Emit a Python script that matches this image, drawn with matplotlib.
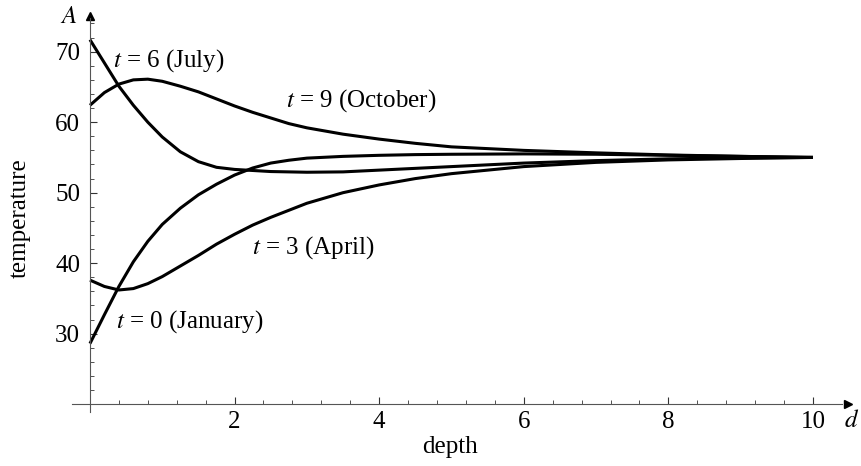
import matplotlib
matplotlib.use("Agg")
import matplotlib.pyplot as plt
from matplotlib.ticker import MultipleLocator

# depth grid
depth = [0, 0.2, 0.4, 0.6, 0.8, 1.0, 1.25, 1.5, 1.75, 2.0, 2.25, 2.5, 2.75,
         3.0, 3.5, 4, 4.5, 5, 6, 7, 8, 9, 10]

# temperature for each month
temp_jan = [28.6, 32.7, 36.7, 40.2, 43.1, 45.5, 47.8, 49.7, 51.2, 52.5, 53.5,
            54.2, 54.6, 54.9, 55.15, 55.3, 55.4, 55.45, 55.5, 55.45, 55.3,
            55.15, 55.0]
temp_apr = [37.6, 36.7, 36.2, 36.4, 37.1, 38.1, 39.6, 41.1, 42.7, 44.1, 45.4,
            46.5, 47.5, 48.5, 50.0, 51.1, 52.0, 52.7, 53.7, 54.3, 54.65,
            54.85, 55.0]
temp_jul = [71.7, 68.4, 65.1, 62.4, 60.0, 57.9, 55.8, 54.4, 53.6, 53.3, 53.15,
            53.0, 52.95, 52.9, 52.95, 53.2, 53.45, 53.7, 54.2, 54.55, 54.8,
            54.95, 55.0]
temp_oct = [62.4, 64.2, 65.4, 66.0, 66.1, 65.8, 65.1, 64.3, 63.3, 62.3, 61.4,
            60.6, 59.8, 59.2, 58.3, 57.6, 57.0, 56.5, 56.0, 55.65, 55.35,
            55.15, 55.0]

curve_labels = ["$t$ = 0 (January)", "$t$ = 3 (April)",
                "$t$ = 6 (July)", "$t$ = 9 (October)"]
label_pos = [(1.38, 31.7), (3.09, 42.2), (1.09, 68.8), (3.75, 63.0)]

plt.rcParams['font.family'] = ['Liberation Serif', 'DejaVu Serif']
plt.rcParams['mathtext.fontset'] = 'stix'
fs = 18

fig = plt.figure(figsize=(8.61, 4.66), dpi=100)
ax = fig.add_axes([0.0793, 0.1099, 0.9153, 0.870])
ax.set_xlim(-0.3, 10.6)
ax.set_ylim(18.5, 76)

for temps in [temp_jan, temp_apr, temp_jul, temp_oct]:
    ax.plot(depth, temps, color='black', lw=2.2, solid_capstyle='butt')

for lab, (x, y) in zip(curve_labels, label_pos):
    ax.text(x, y, lab, fontsize=fs, ha='center', va='center')

# Mathematica style axes through (0, 20)
for s in ['top', 'right']:
    ax.spines[s].set_visible(False)
ax.spines['left'].set_position(('data', 0))
ax.spines['bottom'].set_position(('data', 20))
ax.spines['left'].set_color('#555555')
ax.spines['bottom'].set_color('#555555')
ax.spines['left'].set_bounds(18.9, 74.8)
ax.spines['bottom'].set_bounds(-0.25, 10.4)

ax.plot(10.49, 20, '>', color='black', ms=6, clip_on=False)
ax.plot(0, 75.0, '^', color='black', ms=6, clip_on=False)

ax.set_xticks([2, 4, 6, 8, 10])
ax.set_yticks([30, 40, 50, 60, 70])
ax.set_xticks([v * 0.4 for v in range(1, 26)], minor=True)
ax.set_yticks(list(range(20, 75, 2)), minor=True)
ax.tick_params(axis='both', which='major', direction='in', length=5,
               width=0.8, color='#333333', labelsize=fs)
ax.tick_params(axis='both', which='minor', direction='in', length=3,
               width=0.6, color='#333333')
ax.tick_params(axis='x', pad=5)
ax.tick_params(axis='y', pad=7)

ax.text(-0.3, 74.9, "$A$", fontsize=fs, ha='center', va='center')
ax.text(10.54, 17.6, "$d$", fontsize=fs, ha='center', va='center')
fig.text(450 / 861, 1 - 447 / 466, "depth", fontsize=fs, ha='center', va='center')
fig.text(20 / 861, 1 - 218 / 466, "temperature", fontsize=fs, ha='center',
         va='center', rotation=90)

fig.savefig("out.png", dpi=100)
